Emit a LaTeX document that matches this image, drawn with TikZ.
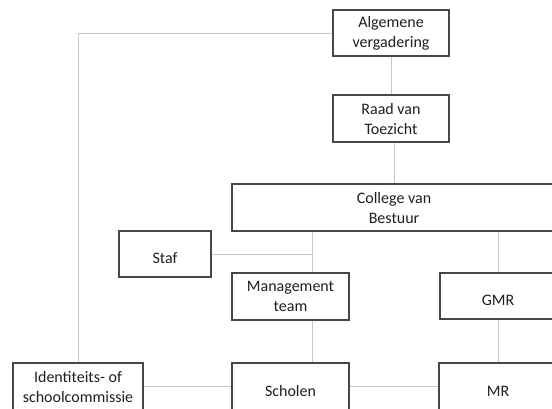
\documentclass[tikz,border=0pt]{standalone}
\usepackage{fontspec}
\setmainfont{Carlito}
\usepackage{tikz}

\begin{document}
\begin{tikzpicture}[
    x=1pt, y=-1pt,
    orgbox/.style={rectangle, draw=black!72, line width=1.1pt, fill=white, inner sep=0pt,
        minimum height=47pt, align=center, text=black!88,
        font=\fontsize{16}{20}\selectfont},
    link/.style={draw=black!22, line width=1pt}
]
    % Canvas
    \useasboundingbox (0,0) rectangle (552,408);
    \clip (0,0) rectangle (552,408);

    % Top of the organisation
    \node[orgbox, minimum width=116pt, minimum height=46pt] (algvergadering) at (391,33) {Algemene\\vergadering};
    \node[orgbox, minimum width=116pt] (raad) at (391,118.5) {Raad van\\Toezicht};
    \node[orgbox, minimum width=324pt] (college) at (394,207.5) {College van\\Bestuur};

    % Middle layer
    \node[orgbox, minimum width=92pt, minimum height=46pt] (staf) at (165,254) {~\\Staf};
    \node[orgbox, minimum width=117pt] (mgmtteam) at (290.5,296.5) {Management\\team};
    \node[orgbox, minimum width=116pt, minimum height=46pt] (gmr) at (498,296) {~\\GMR};

    % Bottom layer
    \node[orgbox, minimum width=130pt] (identiteit) at (78,386.5) {Identiteits- of\\schoolcommissie};
    \node[orgbox, minimum width=117pt] (scholen) at (290.5,386.5) {~\\Scholen};
    \node[orgbox, minimum width=118pt] (mr) at (498,386.5) {~\\MR};

    \coordinate (mgmtaxis) at (312,0);

    % Lines
    \draw[link] (algvergadering) -- (raad);
    \draw[link] (raad.south -| college.north) -- (college.north);
    \draw[link] (algvergadering.west) -| (identiteit.north);
    \draw[link] (college.south -| mgmtaxis) -- (mgmtaxis |- mgmtteam.north);
    \draw[link] (staf.east) -- (staf.east -| mgmtaxis);
    \draw[link] (mgmtteam.south -| mgmtaxis) -- (mgmtaxis |- scholen.north);
    \draw[link] (college.south -| gmr.north) -- (gmr.north);
    \draw[link] (gmr.south) -- (gmr.south |- mr.north);
    \draw[link] (identiteit.east) -- (identiteit.east -| scholen.west);
    \draw[link] (scholen.east) -- (scholen.east -| mr.west);
\end{tikzpicture}
\end{document}
